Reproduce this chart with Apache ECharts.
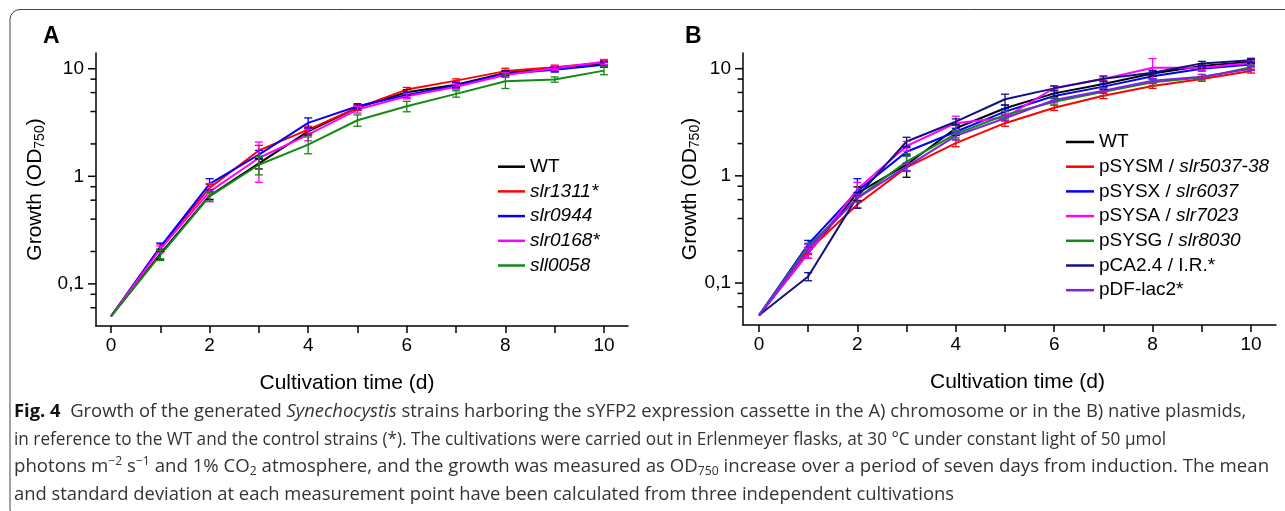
<!DOCTYPE html>
<html><head><meta charset="utf-8">
<script src="https://cdn.jsdelivr.net/npm/echarts@6/dist/echarts.min.js"></script>
<style>html,body{margin:0;padding:0;background:#fff}#c{width:1285px;height:511px}</style>
</head><body><div id="c"></div>
<script>
// ---------- data ----------
const days = [0,1,2,3,4,5,6,7,8,9,10];
const xTickValues = [0,1,2,3,4,5,6,7,8,9,10];
const xLabelValues = [0,2,4,6,8,10];
const yTickValues = [0.06,0.08,0.1,0.2,0.4,0.6,0.8,1,2,4,6,8,10];
const yMajorTicks = [0.1,1,10];

// Panel A (chromosome)
const strainsA = ['WT','slr1311*','slr0944','slr0168*','sll0058'];
const colorsA  = ['#000000','#ff0000','#0000ff','#ff00ff','#138a13'];
const A_WT      = [0.05,0.19,0.66,1.32,2.62,4.35,6.05,7.10,9.15,10.0,11.2];
const A_slr1311 = [0.05,0.22,0.78,1.74,2.72,4.35,6.40,7.75,9.50,10.3,11.4];
const A_slr0944 = [0.05,0.22,0.85,1.59,3.14,4.48,5.70,7.00,9.00,9.80,10.9];
const A_slr0168 = [0.05,0.21,0.72,1.48,2.44,4.17,5.55,6.80,8.75,10.1,11.6];
const A_sll0058 = [0.05,0.185,0.65,1.28,1.97,3.32,4.48,5.84,7.65,7.94,9.60];
const A_WT_sd      = [0,0.02,0.05,0.15,0.20,0.25,0.35,0.40,0.50,0.50,0.60];
const A_slr1311_sd = [0,0.015,0.06,0.20,0.20,0.25,0.30,0.30,0.60,0.50,0.60];
const A_slr0944_sd = [0,0.02,0.10,0.15,0.35,0.25,0.35,0.40,0.45,0.50,0.60];
const A_slr0168_sd = [0,0.015,0.14,0.60,0.30,0.30,0.30,0.35,0.45,0.45,0.60];
const A_sll0058_sd = [0,0.02,0.06,0.25,0.35,0.40,0.50,0.40,1.10,0.45,0.80];

// Panel B (native plasmids)
const strainsB = ['WT','pSYSM / slr5037-38','pSYSX / slr6037','pSYSA / slr7023','pSYSG / slr8030','pCA2.4 / I.R.*','pDF-lac2*'];
const colorsB  = ['#000000','#ff0000','#0000ff','#ff00ff','#138a13','#12127e','#7b22e6'];
const B_WT    = [0.05,0.19,0.69,1.27,2.78,4.27,5.88,7.20,9.00,10.6,11.6];
const B_pSYSM = [0.05,0.20,0.54,1.20,2.02,3.10,4.32,5.60,6.90,8.00,9.50];
const B_pSYSX = [0.05,0.23,0.72,1.68,2.58,3.97,5.56,6.80,8.50,10.0,10.95];
const B_pSYSA = [0.05,0.19,0.75,1.90,3.10,3.50,6.60,8.00,10.2,10.2,11.3];
const B_pSYSG = [0.05,0.22,0.62,1.36,2.46,3.70,4.92,6.10,7.45,8.25,10.3];
const B_pCA24 = [0.05,0.115,0.64,2.09,3.20,5.18,6.55,8.05,9.15,11.2,12.0];
const B_pDF   = [0.05,0.21,0.62,1.22,2.36,3.45,5.10,6.23,7.70,8.40,10.0];
const B_WT_sd    = [0,0.02,0.10,0.30,0.20,0.30,0.40,0.50,0.50,0.50,0.50];
const B_pSYSM_sd = [0,0.015,0.04,0.10,0.15,0.20,0.25,0.35,0.35,0.35,0.40];
const B_pSYSX_sd = [0,0.02,0.22,0.15,0.20,0.25,0.30,0.40,0.45,0.50,0.50];
const B_pSYSA_sd = [0,0.02,0.12,0.20,0.50,0.25,0.30,0.35,2.20,0.50,0.50];
const B_pSYSG_sd = [0,0.015,0.05,0.25,0.20,0.30,0.35,0.50,0.50,0.60,0.50];
const B_pCA24_sd = [0,0.01,0.06,0.20,0.20,0.60,0.35,0.50,0.50,0.50,0.50];
const B_pDF_sd   = [0,0.02,0.05,0.10,0.20,0.20,0.30,0.35,0.40,0.40,0.40];

const valuesA = [A_WT,A_slr1311,A_slr0944,A_slr0168,A_sll0058];
const sdA     = [A_WT_sd,A_slr1311_sd,A_slr0944_sd,A_slr0168_sd,A_sll0058_sd];
const valuesB = [B_WT,B_pSYSM,B_pSYSX,B_pSYSA,B_pSYSG,B_pCA24,B_pDF];
const sdB     = [B_WT_sd,B_pSYSM_sd,B_pSYSX_sd,B_pSYSA_sd,B_pSYSG_sd,B_pCA24_sd,B_pDF_sd];

// ---------- chart ----------
const FF = '"Liberation Sans", Arial, Helvetica, sans-serif';
const CF = '"Open Sans", "Noto Sans", sans-serif';

function yLabel(v){
  if (v >= 1) return String(Math.round(v));
  return String(+v.toPrecision(3)).replace('.', ',');
}

function xAxisCfg(g, min, max, pad){
  return {
    type:'value', gridIndex:g, min:min, max:max,
    axisLine:{show:true, onZero:false, lineStyle:{color:'#000', width:1.5}},
    axisTick:{show:true, customValues:xTickValues, length:7, lineStyle:{color:'#000', width:1.5}},
    axisLabel:{customValues:xLabelValues, margin:10, color:'#000', fontSize:19, fontFamily:FF},
    splitLine:{show:false},
    name:'Cultivation time (d)', nameLocation:'middle', nameGap:47, nameMoveOverlap:false,
    nameTextStyle:{color:'#000', fontSize:21, fontFamily:FF, padding:pad}
  };
}
function yAxisCfg(g, gap){
  return {
    type:'log', logBase:10, gridIndex:g, min:0.0406, max:14.0,
    axisLine:{show:true, onZero:false, lineStyle:{color:'#000', width:1.5}},
    axisTick:{show:false},
    splitLine:{show:false}, minorSplitLine:{show:false},
    axisLabel:{showMinLabel:false, showMaxLabel:false, margin:12, color:'#000', fontSize:19, fontFamily:FF, formatter:yLabel},
    name:'Growth (OD{s|750})', nameLocation:'middle', nameRotate:90, nameGap:gap, nameMoveOverlap:false,
    nameTextStyle:{color:'#000', fontSize:21, fontFamily:FF, lineHeight:24,
      rich:{s:{fontSize:14, fontFamily:FF, color:'#000', lineHeight:9, verticalAlign:'bottom'}}}
  };
}

function lineSeries(name, g, vals, color){
  return {
    type:'line', name:name, xAxisIndex:g, yAxisIndex:g, color:color,
    data: days.map((d,i)=>[d, vals[i]]),
    symbol:'none', showSymbol:false, lineStyle:{width:2, color:color}, itemStyle:{color:color},
    z:3, silent:true
  };
}
function errSeries(name, g, vals, sds, color){
  const data = [];
  days.forEach((d,i)=>{ if (sds[i] > 0) data.push([d, vals[i]-sds[i], vals[i]+sds[i]]); });
  return {
    type:'custom', name:name + ' SD', xAxisIndex:g, yAxisIndex:g, silent:true, z:4,
    data:data, encode:{x:0, y:[1,2]},
    renderItem:function(params, api){
      const x = api.value(0);
      const lo = api.coord([x, api.value(1)]);
      const hi = api.coord([x, api.value(2)]);
      const w = 4;
      const st = {stroke:color, lineWidth:1.3};
      return {type:'group', children:[
        {type:'line', shape:{x1:lo[0], y1:lo[1], x2:hi[0], y2:hi[1]}, style:st},
        {type:'line', shape:{x1:lo[0]-w, y1:lo[1], x2:lo[0]+w, y2:lo[1]}, style:st},
        {type:'line', shape:{x1:hi[0]-w, y1:hi[1], x2:hi[0]+w, y2:hi[1]}, style:st}
      ]};
    }
  };
}
function yTickSeries(g){
  return {
    type:'custom', xAxisIndex:g, yAxisIndex:g, silent:true, z:5,
    data: yTickValues.map(v=>[0, v]),
    renderItem:function(params, api){
      const v = api.value(1);
      const y = api.coord([0, v])[1];
      const x0 = params.coordSys.x;
      const len = yMajorTicks.indexOf(v) >= 0 ? 8 : 5.5;
      return {type:'line', shape:{x1:x0-len, y1:y, x2:x0, y2:y}, style:{stroke:'#000', lineWidth:1.5}};
    }
  };
}

const series = [];
strainsA.forEach((n,i)=>series.push(lineSeries(n, 0, valuesA[i], colorsA[i])));
strainsB.forEach((n,i)=>series.push(lineSeries(n, 1, valuesB[i], colorsB[i])));
strainsA.forEach((n,i)=>series.push(errSeries(n, 0, valuesA[i], sdA[i], colorsA[i])));
strainsB.forEach((n,i)=>series.push(errSeries(n, 1, valuesB[i], sdB[i], colorsB[i])));
series.push(yTickSeries(0));
series.push(yTickSeries(1));

const legendText = {fontSize:19, fontFamily:FF, color:'#000', lineHeight:20,
  rich:{i:{fontStyle:'italic', fontSize:19, fontFamily:FF, color:'#000', lineHeight:20}}};

const capBase = {fontSize:18.4, fontFamily:CF, fill:'#333', lineHeight:22};
const capRich = {
  b:{fontWeight:'bold', fontSize:18.4, fontFamily:CF, fill:'#111', lineHeight:22},
  i:{fontStyle:'italic', fontSize:18.4, fontFamily:CF, fill:'#333', lineHeight:22},
  sup:{fontSize:12, fontFamily:CF, fill:'#333', lineHeight:12, verticalAlign:'top'},
  sub:{fontSize:12, fontFamily:CF, fill:'#333', lineHeight:8, verticalAlign:'bottom'}
};
const captionLines = [
  '{b|Fig. 4}  Growth of the generated {i|Synechocystis} strains harboring the sYFP2 expression cassette in the A) chromosome or in the B) native plasmids,',
  'in reference to the WT and the control strains (*). The cultivations were carried out in Erlenmeyer flasks, at 30 °C under constant light of 50 µmol',
  'photons m{sup|−2} s{sup|−1} and 1% CO{sub|2} atmosphere, and the growth was measured as OD{sub|750} increase over a period of seven days from induction. The mean',
  'and standard deviation at each measurement point have been calculated from three independent cultivations'
];
const captionY = [412, 440, 467, 495];
const captionScaleX = [1.0, 0.935, 1.013, 1.0];

const graphic = [
  {type:'rect', silent:true, shape:{x:10, y:9.5, width:1400, height:510, r:10}, style:{fill:'none', stroke:'#444', lineWidth:1}},
  {type:'text', silent:true, x:43, y:37, style:{text:'A', fontSize:23, fontWeight:'bold', fontFamily:FF, fill:'#000', verticalAlign:'middle'}},
  {type:'text', silent:true, x:685, y:37, style:{text:'B', fontSize:23, fontWeight:'bold', fontFamily:FF, fill:'#000', verticalAlign:'middle'}}
];
captionLines.forEach((t,i)=>{
  graphic.push({type:'text', silent:true, x:14, y:captionY[i], scaleX:captionScaleX[i],
    style:Object.assign({text:t, verticalAlign:'middle', rich:capRich}, capBase)});
});

const option = {
  animation:false,
  backgroundColor:'#fff',
  grid:[
    {left:96, top:53, width:532, height:273, outerBoundsMode:'none', containLabel:false},
    {left:743, top:53, width:533, height:272, outerBoundsMode:'none', containLabel:false}
  ],
  xAxis:[ xAxisCfg(0, -0.304, 10.487, [0,30,0,0]), xAxisCfg(1, -0.325, 10.508, [0,0,0,16]) ],
  yAxis:[ yAxisCfg(0, 49), yAxisCfg(1, 41) ],
  legend:[
    {data:strainsA, orient:'vertical', left:498, top:156.7, padding:0, itemWidth:27, itemHeight:2.5, itemGap:4.7,
     icon:'rect', selectedMode:false, textStyle:legendText,
     formatter:n => n === 'WT' ? 'WT' : '{i|' + n + '}'},
    {data:strainsB, orient:'vertical', left:1066, top:132, padding:0, itemWidth:28, itemHeight:2.5, itemGap:4.7,
     icon:'rect', selectedMode:false, textStyle:legendText,
     formatter:n => n.replace(/ \/ (slr\S+)/, ' / {i|$1}')}
  ],
  graphic:graphic,
  series:series
};

const chart = echarts.init(document.getElementById('c'), null, {renderer:'canvas'});
chart.setOption(option);
</script>
</body></html>
